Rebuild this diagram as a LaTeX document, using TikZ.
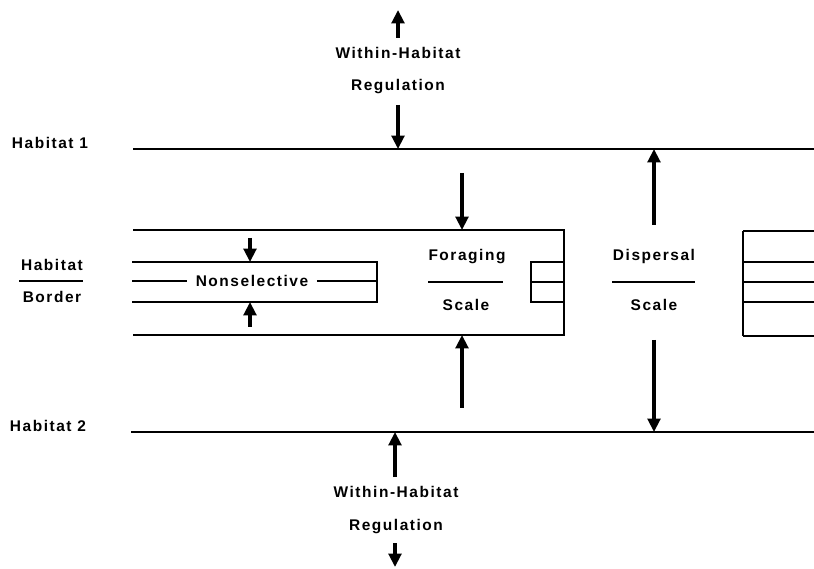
\documentclass[tikz,border=0pt]{standalone}
\usepackage{fontspec}
\newfontfamily\labfont{Liberation Sans}[LetterSpace=10]
\usetikzlibrary{arrows.meta}
\tikzstyle{txt} = [font=\labfont\bfseries\fontsize{11}{13}\selectfont, inner sep=1pt]
\tikzstyle{edge} = [line width=0.9pt]
\tikzstyle{flux} = [line width=2.3pt, -{Triangle[length=9.5pt,width=9pt]}]

\begin{document}
\begin{tikzpicture}[x=0.025cm,y=-0.025cm]
\useasboundingbox (0,0) rectangle (814,569);

% habitat lines
\coordinate (H1L) at (133,149);
\coordinate (H1R) at (814,149);
\coordinate (H2L) at (131,432);
\coordinate (H2R) at (814,432);

% foraging box
\coordinate (FTL) at (133,230);
\coordinate (FTR) at (564,230);
\coordinate (FBR) at (564,335);
\coordinate (FBL) at (133,335);

% nonselective box
\coordinate (NTL) at (132,262);
\coordinate (NTR) at (377,262);
\coordinate (NBR) at (377,302);
\coordinate (NBL) at (132,302);
\coordinate (NML) at (132,281);
\coordinate (NMR) at (377,281);

% small box
\coordinate (STL) at (531,262);
\coordinate (STR) at (564,262);
\coordinate (SML) at (531,282);
\coordinate (SMR) at (564,282);
\coordinate (SBL) at (531,302);
\coordinate (SBR) at (564,302);

% right box
\coordinate (R1) at (743,231);
\coordinate (R2) at (743,262);
\coordinate (R3) at (743,282);
\coordinate (R4) at (743,302);
\coordinate (R5) at (743,336);

\draw[edge] (H1L) -- (H1R);
\draw[edge] (H2L) -- (H2R);
\node[txt] (hab1) at (50,143) {Habitat 1};
\node[txt] (hab2) at (48,426) {Habitat 2};

\draw[edge] (FTL) -- (FTR) -- (FBR) -- (FBL);
\draw[edge] (NTL) -- (NTR) -- (NBR) -- (NBL);
\node[txt, inner xsep=6pt] (nonsel) at (252,281) {Nonselective};
\draw[edge] (NML) -- (nonsel.west);
\draw[edge] (nonsel.east) -- (NMR);

\draw[edge] (STR) -- (STL) -- (SBL) -- (SBR);
\draw[edge] (SML) -- (SMR);

\draw[edge] (R1) -- (R5);
\foreach \r in {R1,R2,R3,R4,R5}
  \draw[edge] (\r) -- (\r -| H1R);

% fractions
\node[txt] (habitat) at (52,265) {Habitat};
\node[txt] (border) at (52,297) {Border};
\draw[edge] (19,281) -- (83,281);
\node[txt] (forag) at (467,257) {Foraging};
\node[txt] (fscale) at (466,305) {Scale};
\draw[edge] (428,282) -- (503,282);
\node[txt] (disp) at (654,257) {Dispersal};
\node[txt] (dscale) at (654,305) {Scale};
\draw[edge] (612,282) -- (695,282);

% within-habitat regulation
\node[txt] (wh1) at (398,53) {Within-Habitat};
\node[txt] (reg1) at (398,87) {Regulation};
\node[txt] (wh2) at (396,492) {Within-Habitat};
\node[txt] (reg2) at (396,527) {Regulation};

\coordinate (A1) at (398,38);
\coordinate (A2) at (398,10);
\coordinate (B1) at (398,105);
\coordinate (B2) at (398,149);
\coordinate (C1) at (395,477);
\coordinate (C2) at (395,432);
\coordinate (D1) at (395,543);
\coordinate (D2) at (395,567);
\draw[flux] (A1) -- (A2);
\draw[flux] (B1) -- (B2);
\draw[flux] (C1) -- (C2);
\draw[flux] (D1) -- (D2);

% foraging and dispersal arrows
\coordinate (E1) at (462,173);
\coordinate (E2) at (462,230);
\coordinate (F1) at (462,408);
\coordinate (F2) at (462,335);
\coordinate (G1) at (654,225);
\coordinate (G2) at (654,149);
\coordinate (K1) at (654,340);
\coordinate (K2) at (654,432);
\draw[flux] (E1) -- (E2);
\draw[flux] (F1) -- (F2);
\draw[flux] (G1) -- (G2);
\draw[flux] (K1) -- (K2);

% nonselective arrows
\coordinate (M1) at (250,238);
\coordinate (M2) at (250,262);
\coordinate (P1) at (250,327);
\coordinate (P2) at (250,302);
\draw[flux] (M1) -- (M2);
\draw[flux] (P1) -- (P2);
\end{tikzpicture}
\end{document}
